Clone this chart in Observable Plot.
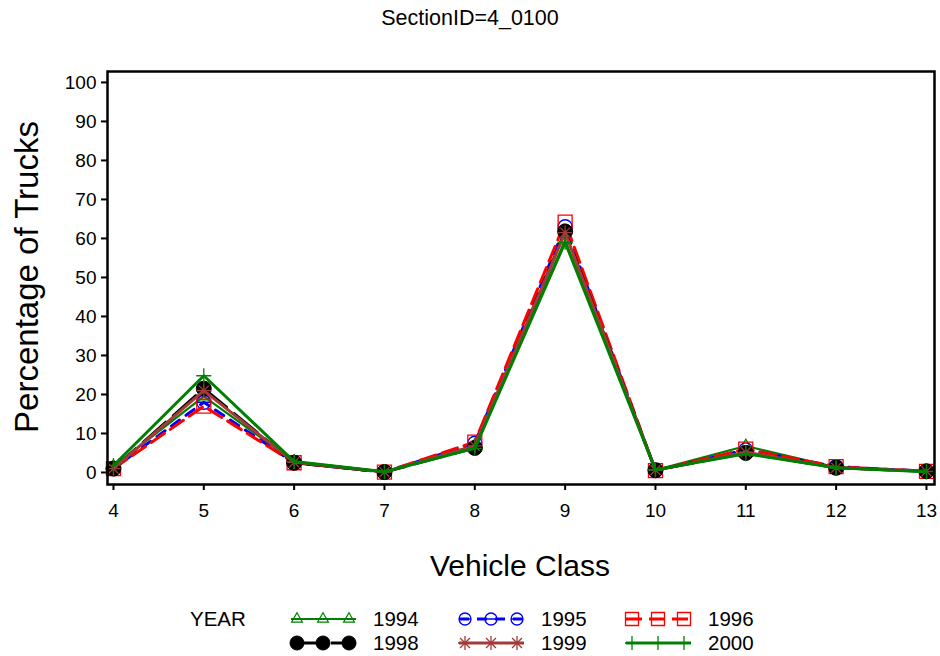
<!DOCTYPE html>
<html><head><meta charset="utf-8">
<script src="https://cdn.jsdelivr.net/npm/d3@7"></script>
<script src="https://cdn.jsdelivr.net/npm/@observablehq/plot@0.6"></script>
<style>
body{margin:0;background:#fff;font-family:"Liberation Sans",Arial,sans-serif;}
#title{height:44px;line-height:36px;text-align:center;font-size:21.5px;color:#000;}
#chart svg{display:block;}
#legend svg{display:block;}
</style></head><body>
<div id="title">SectionID=4_0100</div>
<div id="chart"></div>
<div id="legend"></div>
<script>
// ---- data ----
const classes = [4, 5, 6, 7, 8, 9, 10, 11, 12, 13];
const years = ["1994", "1995", "1996", "1998", "1999", "2000"];
const v1994 = [1.5, 19.5, 2.8, 0.2, 7.0, 59.5, 0.6, 6.8, 1.3, 0.3];
const v1995 = [1.0, 18.0, 2.5, 0.1, 7.5, 63.0, 0.5, 5.8, 1.5, 0.3];
const v1996 = [1.0, 17.0, 2.5, 0.1, 7.8, 64.2, 0.5, 6.0, 1.5, 0.3];
const v1998 = [1.0, 21.5, 2.5, 0.1, 6.3, 61.8, 0.6, 5.0, 1.2, 0.3];
const v1999 = [1.0, 21.0, 2.6, 0.1, 6.8, 61.5, 0.6, 5.2, 1.2, 0.3];
const v2000 = [1.8, 24.8, 2.8, 0.2, 6.2, 59.0, 0.7, 4.8, 1.2, 0.2];
const yTicks = [0, 10, 20, 30, 40, 50, 60, 70, 80, 90, 100];
const values = {"1994": v1994, "1995": v1995, "1996": v1996, "1998": v1998, "1999": v1999, "2000": v2000};

// ---- symbols ----
const thetaSym = {draw(ctx, size){const r=Math.sqrt(size/Math.PI);ctx.moveTo(r,0);ctx.arc(0,0,r,0,2*Math.PI);ctx.moveTo(-r,0);ctx.lineTo(r,0);}};
const starSym = {draw(ctx, size){const r=Math.sqrt(size/Math.PI);for(let k=0;k<4;k++){const a=k*Math.PI/4;ctx.moveTo(r*Math.cos(a),r*Math.sin(a));ctx.lineTo(-r*Math.cos(a),-r*Math.sin(a));}}};
const plusSym = {draw(ctx, size){const r=Math.sqrt(size/Math.PI);ctx.moveTo(-r,0);ctx.lineTo(r,0);ctx.moveTo(0,-r);ctx.lineTo(0,r);}};
const triSym = {draw(ctx, size){const r=Math.sqrt(size/Math.PI)*1.05;const h=r*Math.sqrt(3)/2;ctx.moveTo(0,-r);ctx.lineTo(h,r/2);ctx.lineTo(-h,r/2);ctx.closePath();}};
const squareSym = {draw(ctx, size){const s=Math.sqrt(size/Math.PI);ctx.rect(-s,-s,2*s,2*s);}};
const circleSym = {draw(ctx, size){const r=Math.sqrt(size/Math.PI);ctx.moveTo(r,0);ctx.arc(0,0,r,0,2*Math.PI);}};

const styles = {
  "1994": {stroke:"#008000", width:2.2, dash:null, symbol:triSym, fill:"none", r:6.5, sw:1.2, lr:6},
  "1995": {stroke:"#0000ff", width:3, dash:"10,8", symbol:thetaSym, fill:"none", r:7, sw:1.3, lr:6},
  "1996": {stroke:"#ff0000", width:3, dash:"16,7", symbol:squareSym, fill:"none", r:7, sw:1.3, lr:6.5},
  "1998": {stroke:"#000000", width:3, dash:"30,10", symbol:circleSym, fill:"#000", r:7.5, sw:1, lr:7},
  "1999": {stroke:"#a33b3b", width:3, dash:null, symbol:starSym, fill:"none", r:7, sw:1.3, lr:7},
  "2000": {stroke:"#008000", width:3, dash:null, symbol:plusSym, fill:"none", r:7.5, sw:1.3, lr:7}
};

const rows = [];
for (const yr of years) classes.forEach((c, i) => rows.push({year: yr, cls: c, pct: values[yr][i]}));

const marks = [];
for (const yr of years) {
  const s = styles[yr];
  const d = rows.filter(r => r.year === yr);
  marks.push(Plot.line(d, {x:"cls", y:"pct", stroke:s.stroke, strokeWidth:s.width, strokeDasharray:s.dash || undefined}));
  marks.push(Plot.dot(d, {x:"cls", y:"pct", symbol:s.symbol, r:s.r, stroke:s.stroke, fill:s.fill, strokeWidth:s.sw}));
}

const chart = Plot.plot({
  width: 940, height: 556,
  marginTop: 27, marginBottom: 116, marginLeft: 107, marginRight: 6,
  style: {fontFamily:'"Liberation Sans", Arial, sans-serif', color:"#000", background:"#fff"},
  x: {domain:[3.934, 13.089]},
  y: {domain:[-3.08, 102.8]},
  marks: [
    Plot.axisX({ticks: classes, tickSize:6, tickPadding:13, fontSize:19, strokeWidth:2, label:null, tickFormat: d => String(d)}),
    Plot.axisY({ticks: yTicks, tickSize:6, tickPadding:5, fontSize:19, strokeWidth:2, label:null, tickFormat: d => String(d)}),
    ...marks,
    Plot.frame({stroke:"#000", strokeWidth:2.5})
  ]
});
document.getElementById("chart").appendChild(chart);

const svg = d3.select(chart);
svg.append("text").attr("transform","translate(38,233) rotate(-90)").attr("text-anchor","middle")
  .attr("font-size",33).attr("fill","#000").text("Percentage of Trucks");
svg.append("text").attr("x",520).attr("y",532).attr("text-anchor","middle")
  .attr("font-size",30).attr("fill","#000").text("Vehicle Class");

// ---- legend ----
const legendCols = [[291, 373], [459, 541], [626, 708]];
const legendRows = [19, 43];
const lg = d3.select("#legend").append("svg").attr("width",940).attr("height",56)
  .style("font-family",'"Liberation Sans", Arial, sans-serif');
lg.append("text").attr("x",190).attr("y",legendRows[0]+7).attr("font-size",20.5).text("YEAR");
years.forEach((yr, i) => {
  const s = styles[yr];
  const [sx, tx] = legendCols[i % 3];
  const y = legendRows[Math.floor(i / 3)];
  const g = lg.append("g");
  g.append("line").attr("x1",sx).attr("x2",sx+65).attr("y1",y).attr("y2",y)
    .attr("stroke",s.stroke).attr("stroke-width",s.width).attr("stroke-dasharray",s.dash);
  [6, 32, 58].forEach(o => {
    g.append("path").attr("transform",`translate(${sx+o},${y})`)
      .attr("d", d3.symbol(s.symbol, Math.PI*s.lr*s.lr)())
      .attr("fill",s.fill).attr("stroke",s.stroke).attr("stroke-width",s.sw);
  });
  g.append("text").attr("x",tx).attr("y",y+7).attr("font-size",20.5).text(yr);
});
</script>
</body></html>
